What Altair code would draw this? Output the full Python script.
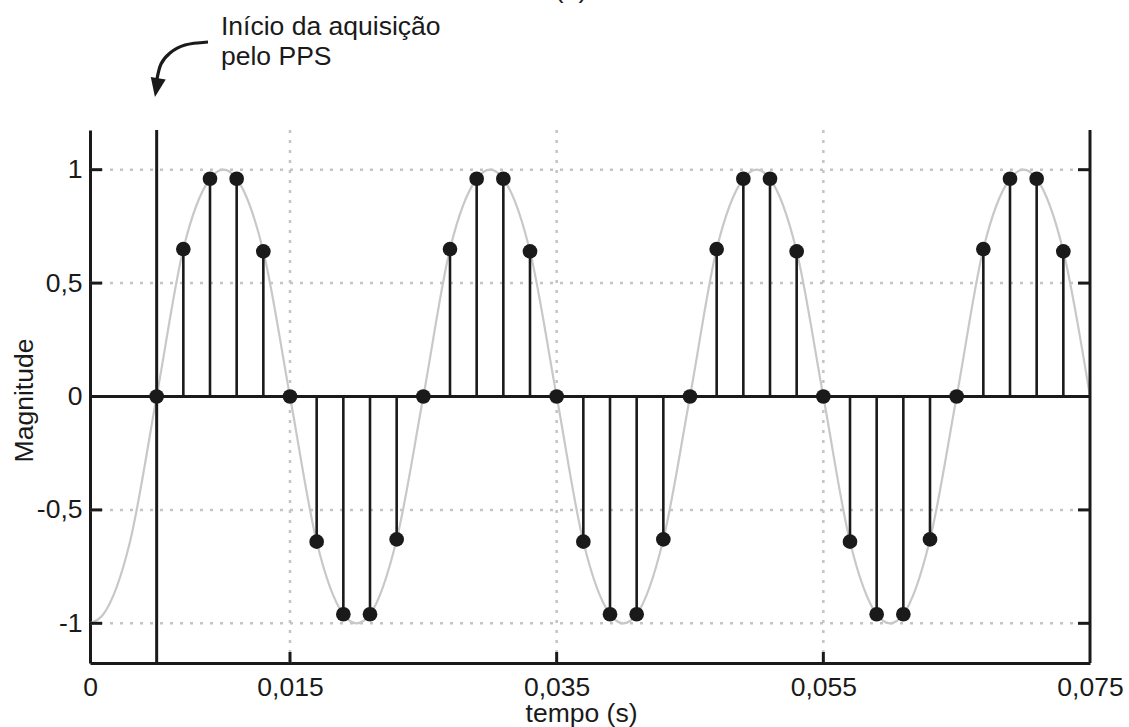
import altair as alt
import pandas as pd

# ---------------- data ----------------
sample_t = [0.005, 0.007, 0.009, 0.011, 0.013,
            0.015, 0.017, 0.019, 0.021, 0.023,
            0.025, 0.027, 0.029, 0.031, 0.033,
            0.035, 0.037, 0.039, 0.041, 0.043,
            0.045, 0.047, 0.049, 0.051, 0.053,
            0.055, 0.057, 0.059, 0.061, 0.063,
            0.065, 0.067, 0.069, 0.071, 0.073]
sample_v = [0.00, 0.65, 0.96, 0.96, 0.64,
            0.00, -0.64, -0.96, -0.96, -0.63,
            0.00, 0.65, 0.96, 0.96, 0.64,
            0.00, -0.64, -0.96, -0.96, -0.63,
            0.00, 0.65, 0.96, 0.96, 0.64,
            0.00, -0.64, -0.96, -0.96, -0.63,
            0.00, 0.65, 0.96, 0.96, 0.64]

curve_t = [0.000, 0.001, 0.003,
           0.005, 0.007, 0.009, 0.010, 0.011, 0.013,
           0.015, 0.017, 0.019, 0.020, 0.021, 0.023,
           0.025, 0.027, 0.029, 0.030, 0.031, 0.033,
           0.035, 0.037, 0.039, 0.040, 0.041, 0.043,
           0.045, 0.047, 0.049, 0.050, 0.051, 0.053,
           0.055, 0.057, 0.059, 0.060, 0.061, 0.063,
           0.065, 0.067, 0.069, 0.070, 0.071, 0.073,
           0.075]
curve_v = [-1.00, -0.96, -0.64,
           0.00, 0.65, 0.96, 1.00, 0.96, 0.64,
           0.00, -0.64, -0.96, -1.00, -0.96, -0.63,
           0.00, 0.65, 0.96, 1.00, 0.96, 0.64,
           0.00, -0.64, -0.96, -1.00, -0.96, -0.63,
           0.00, 0.65, 0.96, 1.00, 0.96, 0.64,
           0.00, -0.64, -0.96, -1.00, -0.96, -0.63,
           0.00, 0.65, 0.96, 1.00, 0.96, 0.64,
           0.00]

x_ticks = [0, 0.015, 0.035, 0.055, 0.075]
x_grid = [0.015, 0.035, 0.055]
y_ticks = [-1, -0.5, 0, 0.5, 1]
y_grid = [-1, -0.5, 0.5, 1]
pps_t = [0.005]

annot_text = ["Início da aquisição\npelo PPS"]
annot_t = [0.009825]
annot_v = [1.594]
title_text = ["(b)"]
title_t = [0.036075]
title_v = [1.757]
arrow_t = [0.00885, 0.007125, 0.006, 0.005325, 0.005025]
arrow_v = [1.563, 1.5498, 1.5145, 1.466, 1.3998]
arrow_head_t = [0.004995]
arrow_head_v = [1.362]

# ---------------- chart ----------------
W, H = 1000, 533
FONT = "Liberation Sans"
INK = "#1a1a1a"
FS = 26.5

xs = alt.Scale(domain=[0, 0.075], nice=False, zero=False)
ys = alt.Scale(domain=[-1.175, 1.175], nice=False, zero=False)

X = alt.X("t:Q", scale=xs, axis=alt.Axis(
    values=x_ticks, labelExpr="replace(toString(datum.value), '.', ',')",
    grid=False, ticks=False, tickSize=0, domain=True, domainColor=INK, domainWidth=3,
    labelFont=FONT, labelFontSize=FS, labelColor=INK, labelPadding=11,
    labelFlush=False, labelOverlap=False,
    title="tempo (s)", titleFont=FONT, titleFontSize=FS, titleFontWeight="normal",
    titleColor=INK, titleX=491, titleY=58, titleBaseline="alphabetic", titleAlign="center"))
Y = alt.Y("v:Q", scale=ys, axis=alt.Axis(
    values=y_ticks, labelExpr="replace(toString(datum.value), '.', ',')",
    grid=False, ticks=False, tickSize=0, domain=True, domainColor=INK, domainWidth=3,
    labelFont=FONT, labelFontSize=FS, labelColor=INK, labelPadding=8,
    labelFlush=False, labelOverlap=False,
    title="Magnitude", titleFont=FONT, titleFontSize=FS, titleFontWeight="normal",
    titleColor=INK, titleX=-58, titleY=270, titleAngle=270,
    titleBaseline="alphabetic", titleAlign="center"))

df_samples = pd.DataFrame({"t": sample_t, "v": sample_v, "z": [0.0] * len(sample_t)})
df_curve = pd.DataFrame({"t": curve_t, "v": curve_v})

grid_x = alt.Chart(pd.DataFrame({"t": x_grid})).mark_rule(
    color="#c4c4c4", strokeWidth=2.5, strokeDash=[3, 7]).encode(
    x=X, y=alt.value(0), y2=alt.value(H))
grid_y = alt.Chart(pd.DataFrame({"v": y_grid})).mark_rule(
    color="#c4c4c4", strokeWidth=2.5, strokeDash=[3, 7]).encode(
    y=Y, x=alt.value(0), x2=alt.value(W))

curve = alt.Chart(df_curve).mark_line(
    color="#c8c8c8", strokeWidth=2.2, interpolate="monotone").encode(x=X, y=Y)

zero_line = alt.Chart(pd.DataFrame({"v": [0.0]})).mark_rule(
    color=INK, strokeWidth=3).encode(y=Y, x=alt.value(0), x2=alt.value(W))

pps_line = alt.Chart(pd.DataFrame({"t": pps_t})).mark_rule(
    color=INK, strokeWidth=3).encode(x=X, y=alt.value(0), y2=alt.value(H))

right_axis = alt.Chart(pd.DataFrame({"t": [0.075]})).mark_rule(
    color=INK, strokeWidth=3).encode(x=X, y=alt.value(0), y2=alt.value(H))

left_ticks = alt.Chart(pd.DataFrame({"v": y_ticks})).mark_rule(
    color=INK, strokeWidth=3).encode(y=Y, x=alt.value(0), x2=alt.value(12))
right_ticks = alt.Chart(pd.DataFrame({"v": y_ticks})).mark_rule(
    color=INK, strokeWidth=3).encode(y=Y, x=alt.value(W - 12), x2=alt.value(W))
bottom_ticks = alt.Chart(pd.DataFrame({"t": x_grid})).mark_rule(
    color=INK, strokeWidth=3).encode(x=X, y=alt.value(H - 11), y2=alt.value(H))

stems = alt.Chart(df_samples).mark_rule(color=INK, strokeWidth=2.6).encode(
    x=X, y=Y, y2=alt.Y2("z:Q"))
dots = alt.Chart(df_samples).mark_circle(size=215, color=INK, opacity=1).encode(x=X, y=Y)

annot = alt.Chart(pd.DataFrame({"t": annot_t, "v": annot_v, "txt": annot_text})).mark_text(
    align="left", baseline="alphabetic", font=FONT, fontSize=FS, lineHeight=30,
    lineBreak="\n", color=INK).encode(x=X, y=Y, text="txt:N")

title = alt.Chart(pd.DataFrame({"t": title_t, "v": title_v, "txt": title_text})).mark_text(
    align="center", baseline="alphabetic", font=FONT, fontSize=FS, color=INK).encode(
    x=X, y=Y, text="txt:N")

arrow = alt.Chart(pd.DataFrame({"t": arrow_t, "v": arrow_v, "i": list(range(len(arrow_t)))})).mark_line(
    color=INK, strokeWidth=3.2, interpolate="natural").encode(x=X, y=Y, order="i:Q")
arrow_head = alt.Chart(pd.DataFrame({"t": arrow_head_t, "v": arrow_head_v})).mark_point(
    shape="M-0.8,-1L0.8,-1L0,1Z", size=361, filled=True, fill=INK, opacity=1,
    strokeWidth=0, angle=10).encode(x=X, y=Y)

chart = alt.layer(
    grid_x, grid_y, curve, zero_line, pps_line, right_axis,
    left_ticks, right_ticks, bottom_ticks, stems, dots,
    annot, title, arrow, arrow_head
).properties(
    width=W, height=H,
    autosize=alt.AutoSizeParams(type="none"),
    padding={"left": 90, "top": 130, "right": 39, "bottom": 64},
    background="white"
).configure_view(stroke=None)

chart.save("out.html", embed_options={"renderer": "svg", "actions": False})
